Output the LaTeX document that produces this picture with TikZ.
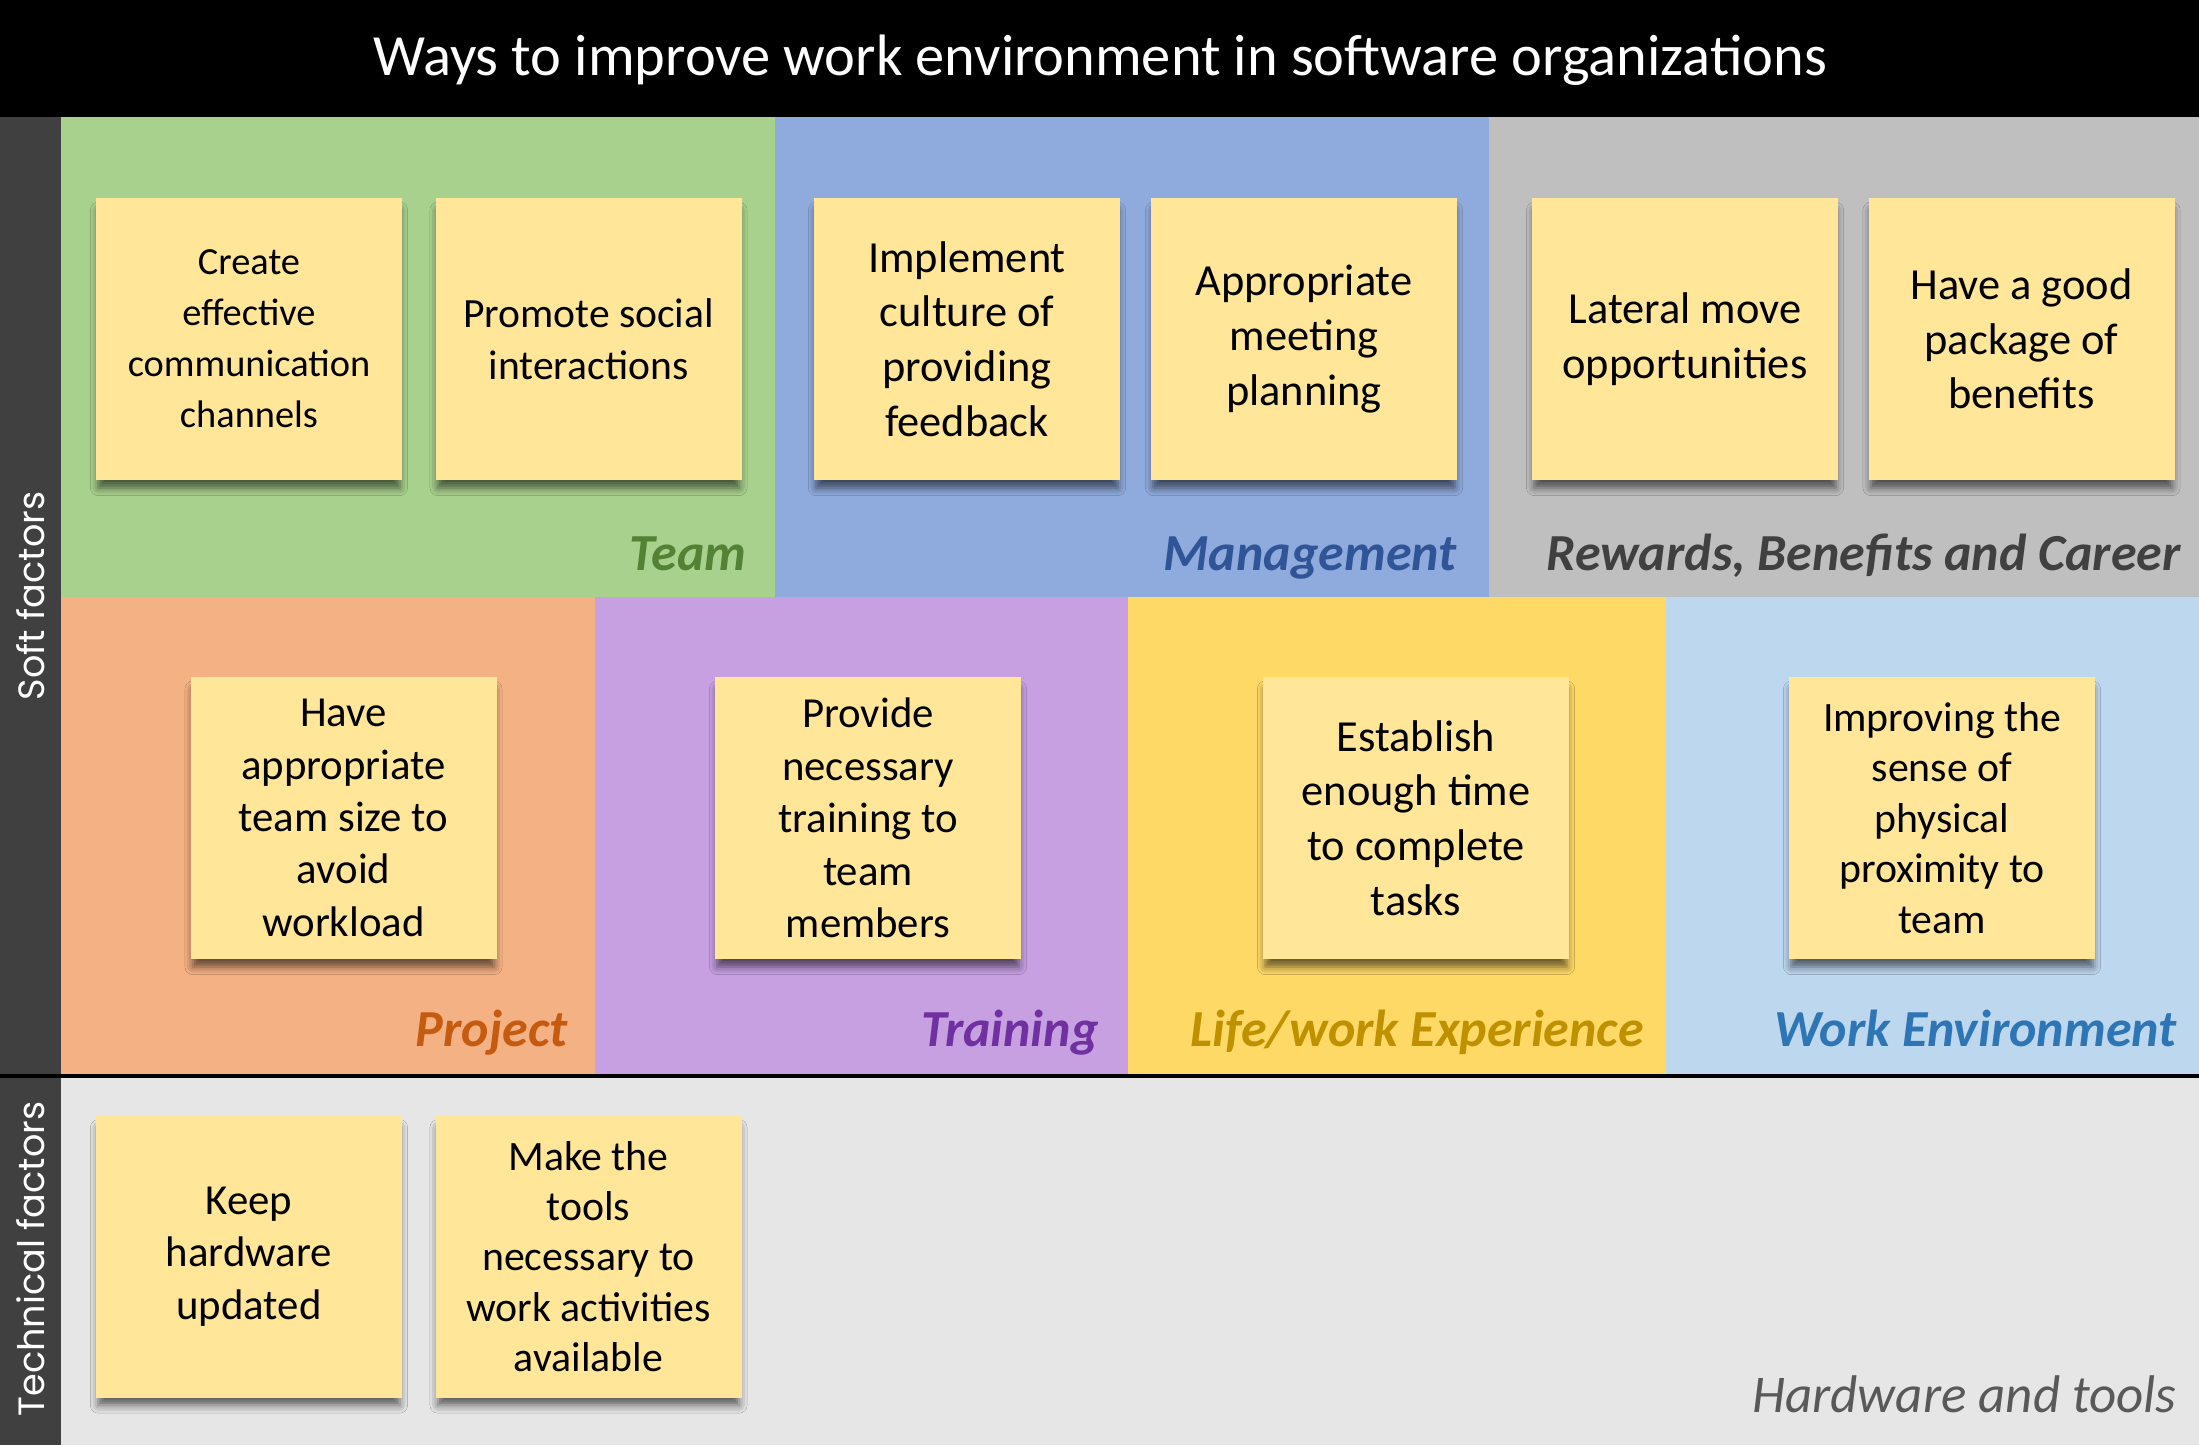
\documentclass[tikz,border=0pt]{standalone}
\usepackage{fontspec}
\setmainfont{Carlito}
\newfontfamily\sidefont{Poppins}
\usetikzlibrary{shadows.blur}

\definecolor{stickyY}{HTML}{FFE699}
\definecolor{stripG}{HTML}{404040}
\definecolor{teamBg}{HTML}{A9D18E}
\definecolor{mgmtBg}{HTML}{8FAADC}
\definecolor{rewBg}{HTML}{BFBFBF}
\definecolor{projBg}{HTML}{F4B183}
\definecolor{trainBg}{HTML}{C7A0E2}
\definecolor{lifeBg}{HTML}{FFD966}
\definecolor{envBg}{HTML}{BDD7EE}
\definecolor{techBg}{HTML}{E7E6E6}
\definecolor{teamFg}{HTML}{548235}
\definecolor{mgmtFg}{HTML}{2F5597}
\definecolor{rewFg}{HTML}{404040}
\definecolor{projFg}{HTML}{C55A11}
\definecolor{trainFg}{HTML}{7030A0}
\definecolor{lifeFg}{HTML}{BF9000}
\definecolor{envFg}{HTML}{2E75B6}
\definecolor{techFg}{HTML}{595959}

\tikzset{
  note/.style={rectangle, fill=stickyY, minimum width=153pt, minimum height=141pt,
    inner sep=0pt, align=center, text=black,
    blur shadow={shadow xshift=0pt, shadow yshift=-5pt, shadow blur radius=4pt,
      shadow scale=0.985, shadow opacity=60}},
  catlabel/.style={anchor=base east, inner sep=0pt,
    font=\fontsize{26}{30}\selectfont\bfseries\itshape},
  sidelabel/.style={rotate=90, text=white, inner sep=0pt,
    font=\sidefont\fontsize{18.3}{20}\selectfont},
}

\newcommand{\fs}[2]{\fontsize{#1}{#2}\selectfont}

\begin{document}
\begin{tikzpicture}[x=0.5pt, y=-0.5pt]
  \useasboundingbox (0,0) rectangle (2199,1445);

  % header band and title
  \fill[black] (0,0) rectangle (2199,117);
  \node[text=white, font=\fs{29.2}{34}] (title) at (1100,60)
    {Ways to improve work environment in software organizations};

  % side strip
  \fill[stripG] (0,117) rectangle (61,1445);

  % soft factor regions, top row
  \fill[teamBg] (61,117) rectangle (775,597);
  \fill[mgmtBg] (775,117) rectangle (1489,597);
  \fill[rewBg]  (1489,117) rectangle (2199,597);
  % soft factor regions, middle row
  \fill[projBg]  (61,597) rectangle (595,1074);
  \fill[trainBg] (595,597) rectangle (1128,1074);
  \fill[lifeBg]  (1128,597) rectangle (1666,1074);
  \fill[envBg]   (1666,597) rectangle (2199,1074);
  % technical factor region
  \fill[techBg] (61,1078) rectangle (2199,1445);
  \fill[black] (0,1074) rectangle (2199,1078);

  % side labels
  \node[sidelabel] (soft) at (31,596) {Soft factors};
  \node[sidelabel] (tech) at (31,1259) {Technical factors};

  % notes, top row
  \node[note, font=\fs{19.2}{25.5}] (n1) at (249,339)
    {Create\\effective\\communication\\channels};
  \node[note, font=\fs{20.8}{26}] (n2) at (588.5,339)
    {Promote social\\interactions};
  \node[note, font=\fs{22.2}{27.3}] (n3) at (967,339)
    {Implement\\culture of\\providing\\feedback};
  \node[note, font=\fs{22.2}{27.3}] (n4) at (1304,339)
    {Appropriate\\meeting\\planning};
  \node[note, font=\fs{22.2}{27.3}] (n5) at (1685,339)
    {Lateral move\\opportunities};
  \node[note, font=\fs{22.2}{27.3}] (n6) at (2021.5,339)
    {Have a good\\package of\\benefits};

  % notes, middle row
  \node[note, font=\fs{21.4}{26.2}] (n7) at (343.5,818)
    {Have\\appropriate\\team size to\\avoid\\workload};
  \node[note, font=\fs{21.4}{26.2}] (n8) at (868,818)
    {Provide\\necessary\\training to\\team\\members};
  \node[note, font=\fs{22.2}{27.3}] (n9) at (1416,818)
    {Establish\\enough time\\to complete\\tasks};
  \node[note, font=\fs{20.9}{25.2}] (n10) at (1942,818)
    {Improving the\\sense of\\physical\\proximity to\\team};

  % notes, bottom row
  \node[note, font=\fs{21.4}{26.3}] (n11) at (249,1256.5)
    {Keep\\hardware\\updated};
  \node[note, font=\fs{20.9}{25.2}] (n12) at (588.5,1256.5)
    {Make the\\tools\\necessary to\\work activities\\available};

  % category labels
  \node[catlabel, text=teamFg]  (lteam) at (747,570)  {Team};
  \node[catlabel, text=mgmtFg]  (lmgmt) at (1457,570) {Management};
  \node[catlabel, text=rewFg]   (lrew)  at (2181,570) {Rewards, Benefits and Career};
  \node[catlabel, text=projFg]  (lproj) at (568,1046) {Project};
  \node[catlabel, text=trainFg] (ltrain) at (1099,1046) {Training};
  \node[catlabel, text=lifeFg]  (llife) at (1644,1046) {Life/work Experience};
  \node[catlabel, text=envFg]   (lenv)  at (2177,1046) {Work Environment};
  \node[catlabel, text=techFg, font=\fs{26.5}{30}\itshape] (ltech) at (2177,1412) {Hardware and tools};
\end{tikzpicture}
\end{document}
